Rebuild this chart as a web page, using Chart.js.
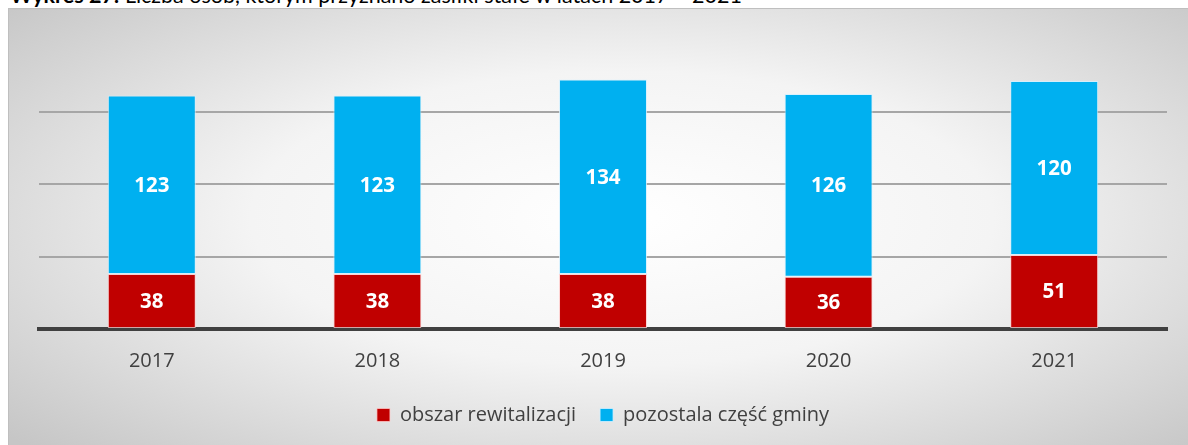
<!DOCTYPE html>
<html>
<head>
<meta charset="utf-8">
<script src="https://cdn.jsdelivr.net/npm/chart.js@4.4.1/dist/chart.umd.min.js"></script>
<style>
  html, body { margin:0; padding:0; background:#ffffff; width:1188px; height:445px; overflow:hidden; }
  #title { position:absolute; left:10px; top:-15px; font-family:Lato, "Open Sans", sans-serif; font-size:21.5px; line-height:21px; color:#000; white-space:nowrap; }
  #title b { font-weight:700; }
  #frame { position:absolute; left:8px; top:8px; width:1180px; height:437px; box-sizing:border-box;
           border-top:1px solid #bfbfbf; border-left:1px solid #bfbfbf;
           background: radial-gradient(ellipse 70% 75% at 52% 48%, #ffffff 0%, #f4f4f4 45%, #c6c6c6 100%); }
  canvas { position:absolute; left:0; top:0; }
</style>
</head>
<body>
<div id="title"><b>Wykres 27:</b> Liczba osób, którym przyznano zasiłki stałe w latach 2017 – 2021</div>
<div id="frame"><canvas id="c" width="1180" height="437"></canvas></div>
<script>
const categories = ["2017", "2018", "2019", "2020", "2021"];
const seriesNames = ["obszar rewitalizacji", "pozostala część gminy"];
const obszarRewitalizacji = [38, 38, 38, 36, 51];
const pozostalaCzescGminy = [123, 123, 134, 126, 120];

const valueLabels = {
  id: 'valueLabels',
  afterDatasetsDraw(chart) {
    const ctx = chart.ctx;
    ctx.save();
    ctx.font = 'bold 20.5px "Open Sans", sans-serif';
    ctx.fillStyle = '#ffffff';
    ctx.textAlign = 'center';
    ctx.textBaseline = 'middle';
    chart.data.datasets.forEach((ds, di) => {
      const meta = chart.getDatasetMeta(di);
      meta.data.forEach((el, i) => {
        const y = (el.y + el.base) / 2;
        ctx.fillText(String(ds.data[i]), el.x, y + 1);
      });
    });
    ctx.restore();
  }
};

new Chart(document.getElementById('c'), {
  type: 'bar',
  data: {
    labels: categories,
    datasets: [
      { label: seriesNames[0], data: obszarRewitalizacji, backgroundColor: '#C00000',
        borderColor: 'rgba(255,200,200,0.75)', borderWidth: 1, borderSkipped: false,
        categoryPercentage: 1.0, barPercentage: 0.39 },
      { label: seriesNames[1], data: pozostalaCzescGminy, backgroundColor: '#00B0F0',
        borderColor: 'rgba(210,240,255,0.8)', borderWidth: 1, borderSkipped: false,
        categoryPercentage: 1.0, barPercentage: 0.39 }
    ]
  },
  options: {
    responsive: false,
    animation: false,
    devicePixelRatio: 1,
    layout: { padding: { left: 30, right: 22, top: 30, bottom: 11 } },
    plugins: {
      tooltip: { enabled: false },
      legend: {
        position: 'bottom',
        labels: {
          boxWidth: 13, boxHeight: 13, padding: 24,
          color: '#404040',
          font: { family: '"Open Sans", sans-serif', size: 20 }
        }
      }
    },
    scales: {
      x: {
        stacked: true,
        grid: { display: false, drawTicks: false },
        border: { display: true, color: '#404040', width: 4 },
        ticks: { color: '#404040', padding: 20, font: { family: '"Open Sans", sans-serif', size: 20 } },
        afterFit: (scale) => { scale.height = 52; }
      },
      y: {
        stacked: true,
        min: 0, max: 200,
        ticks: { display: false, stepSize: 50 },
        border: { display: false },
        grid: {
          drawTicks: false, lineWidth: 2,
          color: (c) => (c.tick && (c.tick.value === 200 || c.tick.value === 0)) ? 'rgba(0,0,0,0)' : '#a6a6a6'
        }
      }
    }
  },
  plugins: [valueLabels]
});
</script>
</body>
</html>
